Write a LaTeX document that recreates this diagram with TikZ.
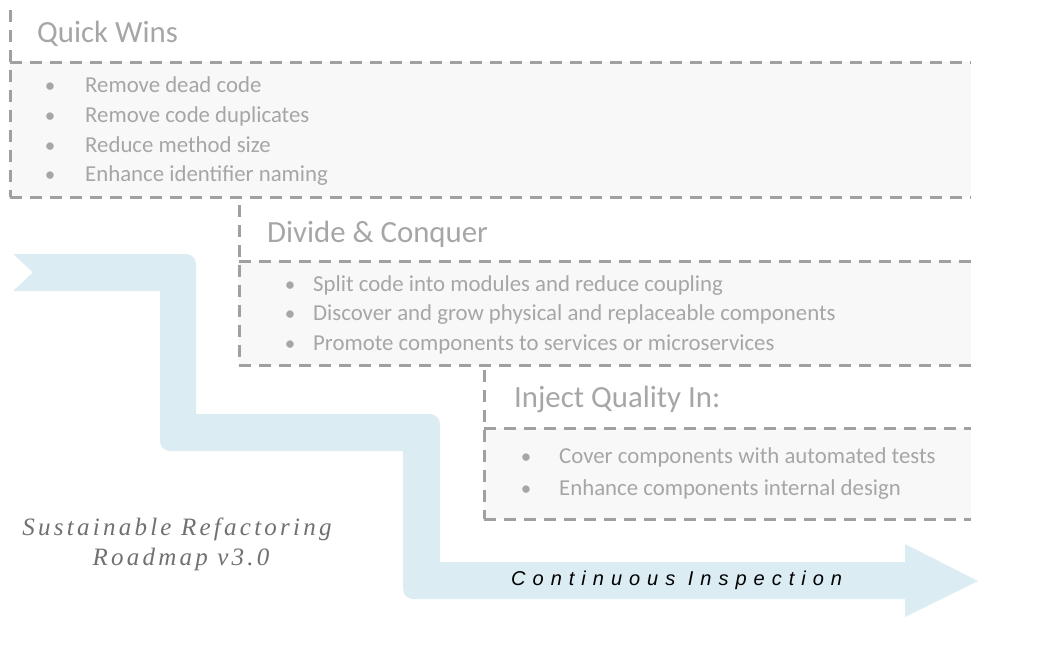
\documentclass[tikz,border=0pt]{standalone}
\usepackage{fontspec}
\setmainfont{Carlito}
\newfontfamily\capfont{Liberation Sans}[LetterSpace=35]
\newfontfamily\serifit{Liberation Serif}[LetterSpace=13]
\definecolor{band}{RGB}{219,237,243}
\definecolor{dashgray}{RGB}{160,160,160}
\definecolor{txtgray}{RGB}{166,166,166}
\definecolor{boxfill}{RGB}{248,248,248}
\definecolor{titlegray}{RGB}{112,112,112}
\tikzset{
  dashline/.style={draw=dashgray, line width=3pt, dash pattern=on 12pt off 8pt},
  boxfillstyle/.style={fill=boxfill, draw=none},
  title/.style={anchor=base west, inner sep=0pt, text=txtgray, font=\fontsize{30.8}{33}\selectfont},
  item/.style={anchor=base west, inner sep=0pt, text=txtgray, font=\fontsize{22.8}{25}\selectfont},
  bul/.style={anchor=base, inner sep=0pt, text=txtgray, font=\fontsize{21}{22}\selectfont},
  roadtitle/.style={anchor=base, inner sep=0pt, text=titlegray, font=\serifit\itshape\fontsize{25}{30}\selectfont},
}
\begin{document}
\begin{tikzpicture}[x=1pt,y=-1pt]
\useasboundingbox (0,0) rectangle (1052,654);
% flowing band
\fill[band] (13,254) -- (186,254) .. controls (191.5,254) and (196,258.5) .. (196,264)
  -- (196,414) -- (430,414) .. controls (435.5,414) and (440,418.5) .. (440,424)
  -- (440,562) -- (905,562) -- (905,544) -- (978,581) -- (905,617) -- (905,599)
  -- (413,599) .. controls (407.5,599) and (403,594.5) .. (403,589)
  -- (403,451) -- (170,451) .. controls (164.5,451) and (160,446.5) .. (160,441)
  -- (160,291) -- (13,291) -- (33,272.5) -- cycle;
% boxes
\fill[boxfillstyle] (10,62) rectangle (971,197);
\fill[boxfillstyle] (239,261) rectangle (971,365);
\fill[boxfillstyle] (484,428) rectangle (971,519);
\coordinate (q1) at (10,10); \coordinate (q2) at (10,197); \coordinate (q3) at (10,62);
\coordinate (q4) at (971,62); \coordinate (q5) at (971,197);
\draw[dashline] (q1) -- (q2);
\draw[dashline] (q3) -- (q4);
\draw[dashline] (q2) -- (q5);
\coordinate (d1) at (239,205); \coordinate (d2) at (239,365); \coordinate (d3) at (239,261);
\coordinate (d4) at (971,261); \coordinate (d5) at (971,365);
\draw[dashline] (d1) -- (d2);
\draw[dashline] (d3) -- (d4);
\draw[dashline] (d2) -- (d5);
\coordinate (i1) at (484,370); \coordinate (i2) at (484,519); \coordinate (i3) at (484,428);
\coordinate (i4) at (971,428); \coordinate (i5) at (971,519);
\draw[dashline] (i1) -- (i2);
\draw[dashline] (i3) -- (i4);
\draw[dashline] (i2) -- (i5);
% titles
\node[title] (tq) at (37,42) {Quick Wins};
\node[title] (td) at (267,242) {Divide \& Conquer};
\node[title] (ti) at (514,407) {Inject Quality In:};
% items
\node[bul] (bq1) at (50,92) {•};  \node[item] (q1t) at (85,92) {Remove dead code};
\node[bul] (bq2) at (50,122) {•}; \node[item] (q2t) at (85,122) {Remove code duplicates};
\node[bul] (bq3) at (50,152) {•}; \node[item] (q3t) at (85,152) {Reduce method size};
\node[bul] (bq4) at (50,181) {•}; \node[item] (q4t) at (85,181) {Enhance identifier naming};
\node[bul] (bd1) at (290,291) {•}; \node[item] (d1t) at (313,291) {Split code into modules and reduce coupling};
\node[bul] (bd2) at (290,320) {•}; \node[item] (d2t) at (313,320) {Discover and grow physical and replaceable components};
\node[bul] (bd3) at (290,350) {•}; \node[item] (d3t) at (313,350) {Promote components to services or microservices};
\node[bul] (bi1) at (526,463) {•}; \node[item] (i1t) at (559,463) {Cover components with automated tests};
\node[bul] (bi2) at (526,495) {•}; \node[item] (i2t) at (559,495) {Enhance components internal design};
% band label
\node[anchor=base west, inner sep=0pt, font=\capfont\itshape\fontsize{20}{22}\selectfont] (ci) at (511,585) {Continuous Inspection};
% roadmap title
\node[roadtitle] (rt) at (177,535) {Sustainable Refactoring};
\node[roadtitle] (rv) at (181,565) {Roadmap v3.0};
\end{tikzpicture}
\end{document}
